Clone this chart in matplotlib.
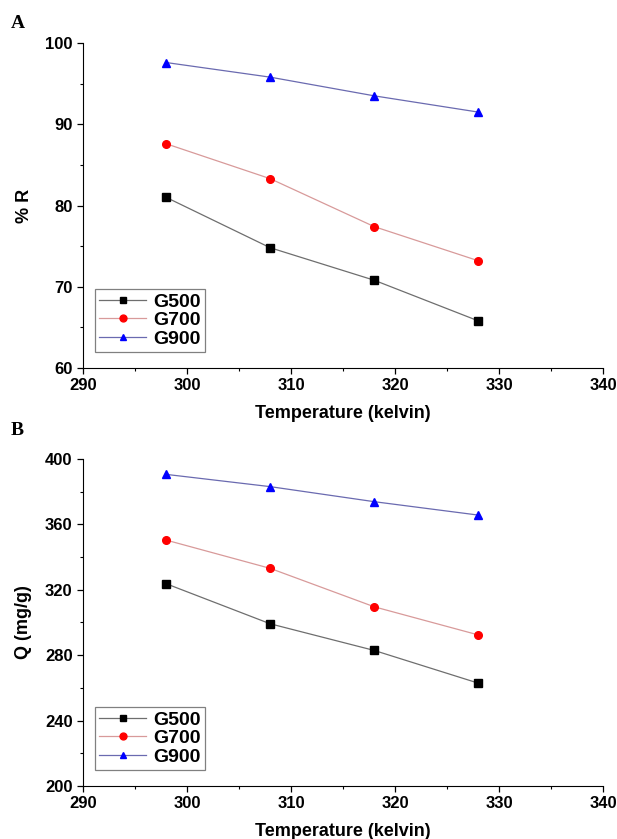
import numpy as np
import matplotlib
matplotlib.use("Agg")
import matplotlib.pyplot as plt
from matplotlib.ticker import MultipleLocator

plt.rcParams['font.family'] = ['Liberation Sans', 'DejaVu Sans']

# data
temps = [298, 308, 318, 328]
labels = ['G500', 'G700', 'G900']

# panel A: removal %
r_g500 = [81.0, 74.8, 70.8, 65.8]
r_g700 = [87.6, 83.3, 77.4, 73.2]
r_g900 = [97.6, 95.8, 93.5, 91.5]

# panel B: uptake Q (mg/g)
q_g500 = [323.7, 299.2, 282.9, 262.9]
q_g700 = [350.4, 333.1, 309.6, 292.4]
q_g900 = [390.6, 383.1, 373.9, 365.7]

styles = [
    dict(marker='s', color='#6e6e6e', markerfacecolor='black', markeredgecolor='black'),
    dict(marker='o', color='#d89a9a', markerfacecolor='red', markeredgecolor='red'),
    dict(marker='^', color='#6a6ab0', markerfacecolor='blue', markeredgecolor='blue'),
]

fig = plt.figure(figsize=(6.17, 8.39), dpi=100)
axA = fig.add_axes([0.1345, 0.5614, 0.843, 0.3873])
axB = fig.add_axes([0.1345, 0.0632, 0.843, 0.3897])


def draw(ax, series, ylim, ymajor, yminor, ylabel):
    for ys, lab, st in zip(series, labels, styles):
        ax.plot(temps, ys, linewidth=0.9, markersize=5.5, label=lab, **st)
    ax.set_xlim(290, 340)
    ax.set_ylim(*ylim)
    ax.xaxis.set_major_locator(MultipleLocator(10))
    ax.xaxis.set_minor_locator(MultipleLocator(5))
    ax.yaxis.set_major_locator(MultipleLocator(ymajor))
    ax.yaxis.set_minor_locator(MultipleLocator(yminor))
    for side in ['top', 'right']:
        ax.spines[side].set_visible(False)
    ax.tick_params(which='major', direction='out', length=4, width=0.9, labelsize=12)
    ax.tick_params(which='minor', direction='out', length=2.5, width=0.8)
    for t in ax.get_xticklabels() + ax.get_yticklabels():
        t.set_fontweight('bold')
    ax.set_xlabel('Temperature (kelvin)', fontsize=13, fontweight='bold', labelpad=8)
    ax.set_ylabel(ylabel, fontsize=13, fontweight='bold', labelpad=9)
    leg = ax.legend(loc='lower left', fancybox=False, framealpha=1,
                    edgecolor='#808080', prop={'weight': 'bold', 'size': 14},
                    handlelength=2.4, handletextpad=0.4, labelspacing=0.05,
                    borderpad=0.2, markerscale=0.9, bbox_to_anchor=(0.005, 0.02))
    leg.get_frame().set_linewidth(0.9)


draw(axA, [r_g500, r_g700, r_g900], (60, 100), 10, 5, '% R')
draw(axB, [q_g500, q_g700, q_g900], (200, 400), 40, 20, 'Q (mg/g)')

fig.text(0.018, 0.972, 'A', fontsize=14, fontweight='bold', family='Liberation Serif', va='center')
fig.text(0.018, 0.487, 'B', fontsize=14, fontweight='bold', family='Liberation Serif', va='center')

fig.savefig('out.png', dpi=100)
